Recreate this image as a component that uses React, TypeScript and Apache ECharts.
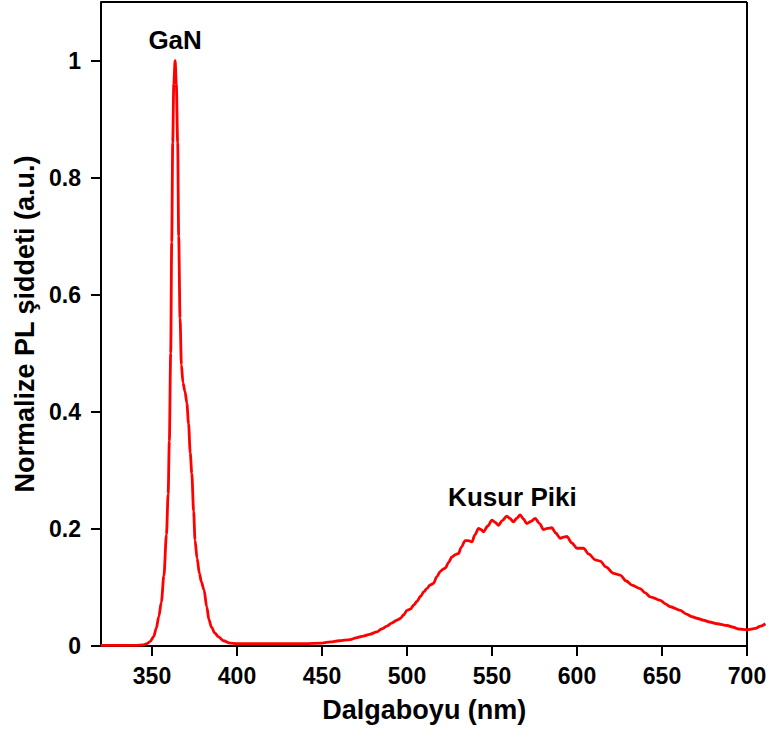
import React, { useEffect, useRef } from "react";
import * as echarts from "echarts";

const wavelengths: number[] = [
  320, 330, 340, 345, 347, 349, 351, 352.5, 354, 355.5, 357, 358.5, 359.5, 360.2, 361, 361.6,
  362.2, 362.8, 363.6, 364.3, 365.1, 365.7, 366.5, 367.3, 368.2, 369.4, 370.5, 371.5, 372.5,
  373.4, 374.5, 375.3, 376.5, 377.9, 379, 380.6, 382.2, 383.5, 385, 387, 389, 392, 396, 400,
  420, 440, 450, 455, 460, 466.6, 470, 474.4, 478, 482.3, 485, 488.2, 491, 494, 496, 498, 500,
  502, 504, 505.8, 508, 510, 511.7, 513.5, 515.6, 517.5, 519.5, 521, 522.5, 524.5, 526.4,
  528.5, 530.3, 532, 534.2, 536, 538.2, 540, 542.1, 543.5, 545, 547.5, 550, 552, 553.8, 556,
  558.7, 560.5, 562.6, 564.5, 566.6, 568.5, 570.5, 573, 575.4, 578, 580.3, 582.5, 585.2,
  587.5, 590.1, 592, 594, 597, 599.9, 602, 603.8, 607, 610.8, 613.7, 617, 621.5, 625.4, 629,
  632.3, 637.2, 640, 643.1, 649, 652, 654.9, 660.8, 664, 667.7, 671, 674.5, 678, 682.4, 688.3,
  692, 695.1, 700.1, 705, 708, 710.8,
];

const intensities: number[] = [
  0.001, 0.001, 0.001, 0.002, 0.004, 0.008, 0.016, 0.03, 0.05, 0.075, 0.12, 0.19, 0.26, 0.35,
  0.5, 0.69, 0.86, 0.96, 1.0, 0.96, 0.86, 0.7, 0.56, 0.48, 0.45, 0.435, 0.415, 0.38, 0.33,
  0.295, 0.23, 0.181, 0.15, 0.124, 0.11, 0.096, 0.067, 0.045, 0.032, 0.022, 0.016, 0.009,
  0.005, 0.004, 0.004, 0.004, 0.005, 0.007, 0.009, 0.011, 0.014, 0.017, 0.02, 0.024, 0.029,
  0.034, 0.039, 0.044, 0.047, 0.053, 0.061, 0.063, 0.07, 0.076, 0.085, 0.093, 0.098, 0.104,
  0.107, 0.118, 0.127, 0.131, 0.133, 0.143, 0.152, 0.156, 0.158, 0.169, 0.18, 0.18, 0.178,
  0.19, 0.201, 0.199, 0.195, 0.205, 0.215, 0.211, 0.206, 0.214, 0.222, 0.218, 0.212, 0.218,
  0.224, 0.217, 0.209, 0.213, 0.218, 0.209, 0.199, 0.201, 0.202, 0.193, 0.184, 0.186, 0.187,
  0.176, 0.167, 0.167, 0.167, 0.157, 0.147, 0.145, 0.135, 0.124, 0.121, 0.111, 0.104, 0.098,
  0.091, 0.084, 0.078, 0.072, 0.067, 0.061, 0.055, 0.05, 0.047, 0.044, 0.041, 0.038, 0.035,
  0.032, 0.029, 0.028, 0.03, 0.034, 0.038,
];

const xTicks: number[] = [350, 400, 450, 500, 550, 600, 650, 700];
const yTicks: number[] = [0, 0.2, 0.4, 0.6, 0.8, 1];

// plot frame extent (data units) and axis extent (curve runs past the frame)
const frameX: [number, number] = [320, 700];
const frameY: [number, number] = [0, 1.1];
const axisXMax = 711;

const xTitle = "Dalgaboyu (nm)";
const yTitle = "Normalize PL şiddeti (a.u.)";
const peakLabels = [
  { text: "GaN", x: 363.6, y: 1.0 },
  { text: "Kusur Piki", x: 562, y: 0.224 },
];

const FONT = "'Liberation Sans', Arial, Helvetica, sans-serif";

export default function App() {
  const ref = useRef<HTMLDivElement>(null);

  useEffect(() => {
    if (!ref.current) return;
    const chart = echarts.init(ref.current, undefined, { renderer: "svg" });
    const data = wavelengths.map((w, i) => [w, intensities[i]]);

    const labelStyle = {
      show: true,
      position: "top",
      distance: 5,
      fontFamily: FONT,
      fontWeight: "bold",
      fontSize: 26,
      color: "#000",
    };

    const option: any = {
      animation: false,
      backgroundColor: "#ffffff",
      grid: {
        left: 101,
        right: 7.3,
        top: 2,
        bottom: 92,
        show: false,
      },
      xAxis: {
        type: "value",
        min: frameX[0],
        max: axisXMax,
        name: xTitle,
        nameLocation: "middle",
        nameGap: 50,
        nameTextStyle: {
          fontFamily: FONT,
          fontWeight: "bold",
          fontSize: 27,
          color: "#000",
          padding: [0, 18, 0, 0],
        },
        axisLine: { show: false },
        axisTick: {
          show: true,
          inside: false,
          length: 10,
          customValues: xTicks,
          lineStyle: { color: "#000", width: 2 },
        },
        axisLabel: {
          customValues: xTicks,
          margin: 18,
          fontFamily: FONT,
          fontWeight: "bold",
          fontSize: 23,
          color: "#000",
        },
        splitLine: { show: false },
      },
      yAxis: {
        type: "value",
        min: frameY[0],
        max: frameY[1],
        name: yTitle,
        nameLocation: "middle",
        nameGap: 62,
        nameRotate: 90,
        nameTextStyle: { fontFamily: FONT, fontWeight: "bold", fontSize: 27, color: "#000" },
        axisLine: { show: true, lineStyle: { color: "#000", width: 2 } },
        axisTick: {
          show: true,
          inside: false,
          length: 10,
          customValues: yTicks,
          lineStyle: { color: "#000", width: 2 },
        },
        axisLabel: {
          customValues: yTicks,
          margin: 20,
          fontFamily: FONT,
          fontWeight: "bold",
          fontSize: 23,
          color: "#000",
        },
        splitLine: { show: false },
      },
      series: [
        {
          type: "line",
          data,
          clip: false,
          showSymbol: false,
          symbol: "none",
          smooth: 0.3,
          smoothMonotone: "x",
          lineStyle: { color: "#ff0000", width: 2.8 },
          z: 3,
          markLine: {
            silent: true,
            symbol: ["none", "none"],
            label: { show: false },
            lineStyle: { color: "#000", width: 2, type: "solid" },
            z: 2,
            data: [
              [{ coord: [frameX[0], frameY[0]] }, { coord: [frameX[1], frameY[0]] }],
              [{ coord: [frameX[1], frameY[0]] }, { coord: [frameX[1], frameY[1]] }],
              [{ coord: [frameX[0], frameY[1]] }, { coord: [frameX[1], frameY[1]] }],
            ],
          },
          markPoint: {
            symbol: "circle",
            symbolSize: 0,
            silent: true,
            data: [
              {
                coord: [peakLabels[0].x, peakLabels[0].y],
                label: { ...labelStyle, formatter: peakLabels[0].text, distance: 8 },
              },
              {
                coord: [peakLabels[1].x, peakLabels[1].y],
                label: { ...labelStyle, formatter: peakLabels[1].text },
              },
            ],
          },
        },
      ],
    };

    chart.setOption(option);
    return () => chart.dispose();
  }, []);

  return (
    <div
      ref={ref}
      style={{ position: "fixed", left: 0, top: 0, width: 773, height: 738, background: "#fff" }}
    />
  );
}
